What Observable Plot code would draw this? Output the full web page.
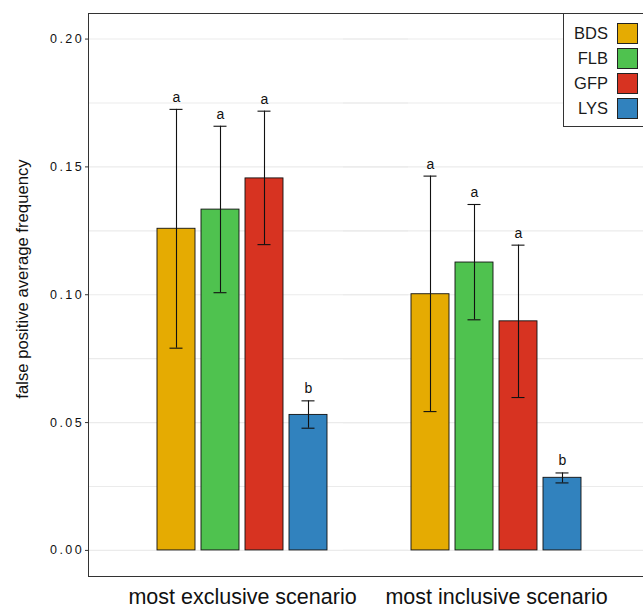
<!DOCTYPE html>
<html>
<head>
<meta charset="utf-8">
<script src="https://cdn.jsdelivr.net/npm/d3@7"></script>
<script src="https://cdn.jsdelivr.net/npm/@observablehq/plot@0.6"></script>
<style>
  html, body { margin: 0; padding: 0; background: #fff; overflow: hidden; }
  #wrap { position: relative; width: 643px; height: 606px; font-family: "Liberation Sans", Arial, sans-serif; }
  #panel { position: absolute; left: 88px; top: 13px; width: 600px; height: 564px; border: 1.1px solid #333; box-sizing: border-box; pointer-events: none; }
  #legend { position: absolute; left: 563px; top: 13px; width: 100px; height: 114px; border: 1px solid #333; background: #fff; box-sizing: border-box; }
  .row { position: absolute; left: 0; height: 20px; display: flex; align-items: center; }
  .lab { width: 44px; text-align: right; font-size: 16.5px; color: #1a1a1a; }
  .sw { width: 19px; height: 19px; margin-left: 9px; border: 1px solid #222; }
  g[aria-label="y-axis tick label"], g[aria-label="y-axis tick label"] text { font-size: 12.5px !important; letter-spacing: 2.4px; }
</style>
</head>
<body>
<div id="wrap"><div id="panel"></div><div id="legend"></div></div>
<script>
const scenarios = ["most exclusive scenario", "most inclusive scenario"];
const series = ["BDS", "FLB", "GFP", "LYS"];
const colors = ["#E5AB02", "#4FC24F", "#D73321", "#3182BE"];

const exclusiveMean = [0.1258, 0.1333, 0.1455, 0.0530];
const exclusiveLo   = [0.0791, 0.1008, 0.1196, 0.0478];
const exclusiveHi   = [0.1725, 0.1659, 0.1718, 0.0585];
const exclusiveLetter = ["a", "a", "a", "b"];

const inclusiveMean = [0.1002, 0.1126, 0.0896, 0.0284];
const inclusiveLo   = [0.0543, 0.0902, 0.0598, 0.0264];
const inclusiveHi   = [0.1464, 0.1353, 0.1194, 0.0303];
const inclusiveLetter = ["a", "a", "a", "b"];

const yTicks = [0, 0.05, 0.10, 0.15, 0.20];
const yGrid = [0, 0.025, 0.05, 0.075, 0.10, 0.125, 0.15, 0.175, 0.20];
const yLabel = "false positive average frequency";

const table = [];
[[exclusiveMean, exclusiveLo, exclusiveHi, exclusiveLetter],
 [inclusiveMean, inclusiveLo, inclusiveHi, inclusiveLetter]].forEach(([m, lo, hi, let_], g) => {
  series.forEach((s, i) => table.push({scenario: scenarios[g], series: s, value: m[i], lo: lo[i], hi: hi[i], letter: let_[i]}));
});

// outer / inner facet padding in pixels (for extending the grid over the whole panel)
const outerPad = 64, innerGap = 77;

const chart = Plot.plot({
  width: 643,
  height: 606,
  marginTop: 13,
  marginBottom: 30,
  marginLeft: 88,
  marginRight: -6,
  style: {fontFamily: "Liberation Sans, Arial, sans-serif", background: "white", overflow: "hidden"},
  fx: {domain: scenarios, paddingInner: 0.3, paddingOuter: 0.25, label: null},
  x: {domain: series, paddingInner: 0.143, paddingOuter: 0.0714, axis: null},
  y: {domain: [-0.0102, 0.2100], axis: null},
  color: {domain: series, range: colors},
  marks: [
    Plot.ruleY(yGrid, {stroke: "#ebebeb", strokeWidth: 1.1, insetLeft: -outerPad, insetRight: -innerGap}),
    Plot.barY(table, {fx: "scenario", x: "series", y: "value", fill: "series", stroke: "#111", strokeWidth: 0.9}),
    Plot.ruleX(table, {fx: "scenario", x: "series", y1: "lo", y2: "hi", stroke: "#111", strokeWidth: 1.1}),
    Plot.tickY(table, {fx: "scenario", x: "series", y: "lo", stroke: "#111", strokeWidth: 1.1, insetLeft: 12.5, insetRight: 12.5}),
    Plot.tickY(table, {fx: "scenario", x: "series", y: "hi", stroke: "#111", strokeWidth: 1.1, insetLeft: 12.5, insetRight: 12.5}),
    Plot.text(table, {fx: "scenario", x: "series", y: "hi", text: "letter", dy: -12, fontSize: 14, fill: "#111"}),
    Plot.axisY({ticks: yTicks, tickFormat: d3.format(".2f"), tickSize: 4, tickPadding: 1.5, fontSize: 12.5, label: null, facetAnchor: "left", dx: -outerPad, stroke: "#333", fill: "#111"}),
    Plot.axisFx({anchor: "bottom", tickSize: 0, tickPadding: 12.5, fontSize: 21.5, label: null, fill: "#111"}),
    Plot.text([yLabel], {fx: () => scenarios[0], text: d => d, frameAnchor: "left", textAnchor: "middle", rotate: -90, dx: -outerPad - 67, dy: -16, fontSize: 16.7, fill: "#111"})
  ]
});
document.getElementById("wrap").prepend(chart);

d3.select(chart).selectAll('g[aria-label="y-axis tick label"]')
  .attr("font-size", 12.5)
  .selectAll("text")
  .attr("font-size", 12.5);

const legend = d3.select("#legend");
series.forEach((s, i) => {
  const row = legend.append("div").attr("class", "row").style("top", (9 + i * 25) + "px");
  row.append("div").attr("class", "lab").text(s);
  row.append("div").attr("class", "sw").style("background", colors[i]);
});
</script>
</body>
</html>
